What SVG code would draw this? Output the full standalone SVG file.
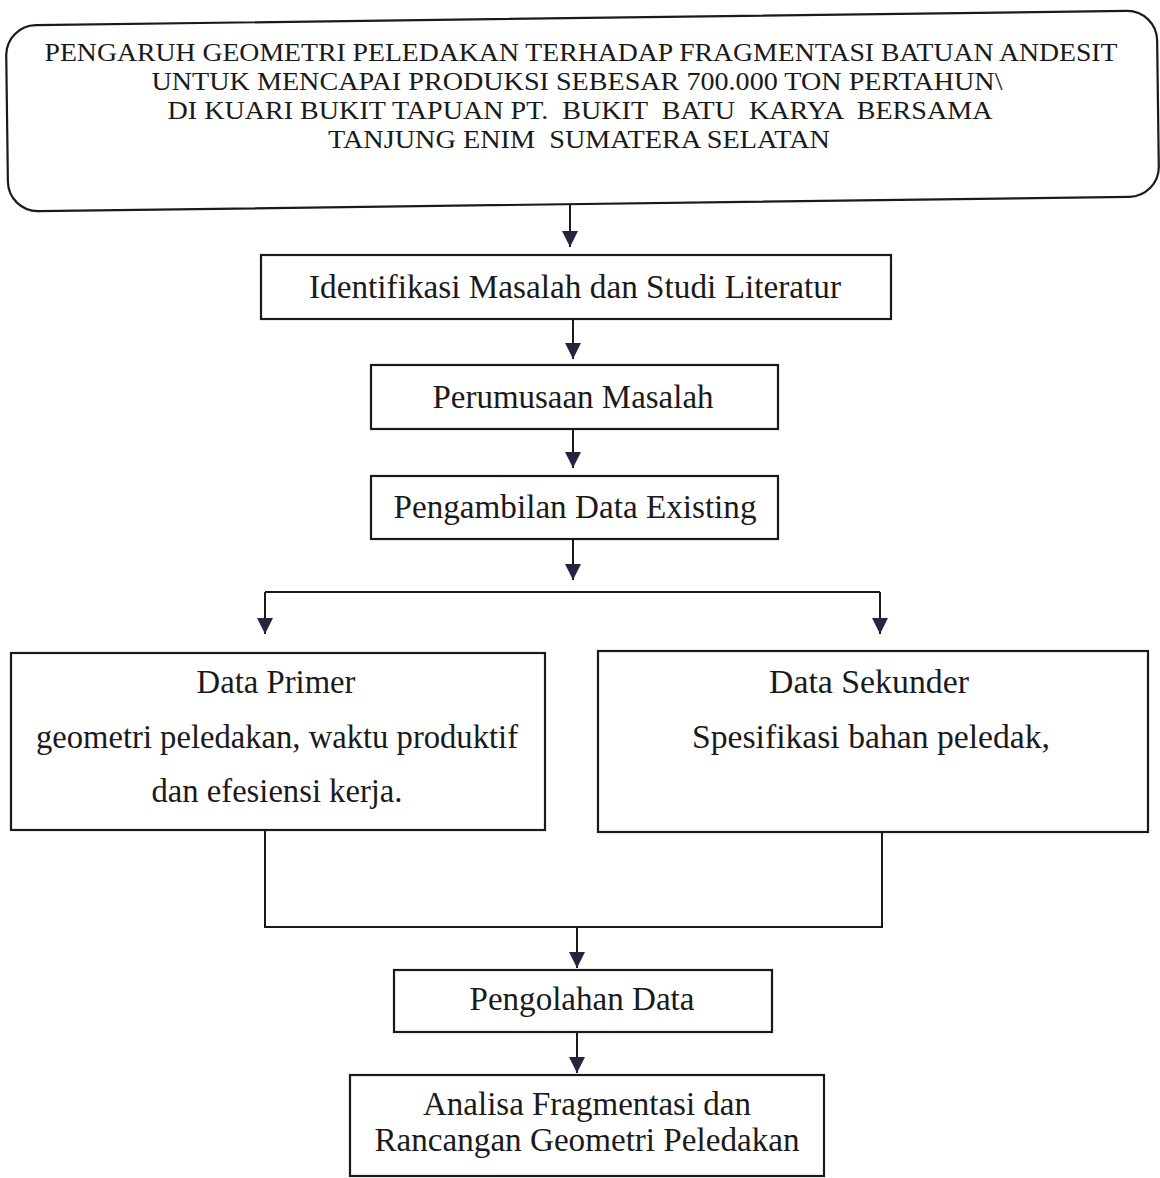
<svg xmlns="http://www.w3.org/2000/svg" width="1160" height="1178" viewBox="0 0 1160 1178">
<style>
.box{fill:#fff;stroke:#1a1a1a;stroke-width:2.2}
.t{font-family:"Liberation Serif","Times New Roman",serif;fill:#1a1a1a;text-anchor:middle}
.title{font-size:25px}
.lbl{font-size:33px}
.conn{fill:none;stroke:#1a1a1a;stroke-width:2}
</style>
<defs>
<marker id="ah" viewBox="0 0 16 16" refX="16" refY="8" markerWidth="16" markerHeight="16" orient="auto" markerUnits="userSpaceOnUse">
<path d="M0,0 L16,8 L0,16 z" fill="#2a2340"/>
</marker>
</defs>
<rect width="1160" height="1178" fill="#fff"/>

<g id="title">
<rect class="box" x="7" y="18" width="1151" height="186" rx="30" transform="rotate(-0.75 583 110)"/>
<text class="t title" x="581" y="61" textLength="1073" lengthAdjust="spacingAndGlyphs">PENGARUH GEOMETRI PELEDAKAN TERHADAP FRAGMENTASI BATUAN ANDESIT</text>
<text class="t title" x="577" y="90" textLength="851" lengthAdjust="spacingAndGlyphs">UNTUK MENCAPAI PRODUKSI SEBESAR 700.000 TON PERTAHUN\</text>
<text class="t title" x="580" y="119" textLength="825" lengthAdjust="spacingAndGlyphs" xml:space="preserve">DI KUARI BUKIT TAPUAN PT.  BUKIT  BATU  KARYA  BERSAMA</text>
<text class="t title" x="579" y="148" textLength="502" lengthAdjust="spacingAndGlyphs" xml:space="preserve">TANJUNG ENIM  SUMATERA SELATAN</text>
</g>

<g id="identifikasi">
<rect class="box" x="261" y="255" width="630" height="64"/>
<text class="t lbl" x="575" y="298" textLength="532" lengthAdjust="spacingAndGlyphs">Identifikasi Masalah dan Studi Literatur</text>
</g>

<g id="perumusaan">
<rect class="box" x="371" y="365" width="407" height="64"/>
<text class="t lbl" x="573" y="408" textLength="281" lengthAdjust="spacingAndGlyphs">Perumusaan Masalah</text>
</g>

<g id="pengambilan">
<rect class="box" x="371" y="476" width="407" height="63"/>
<text class="t lbl" x="575" y="518" textLength="363" lengthAdjust="spacingAndGlyphs">Pengambilan Data Existing</text>
</g>

<g id="primer">
<rect class="box" x="11" y="653" width="534" height="177"/>
<text class="t lbl" x="276" y="693" textLength="159" lengthAdjust="spacingAndGlyphs">Data Primer</text>
<text class="t lbl" x="277" y="748" textLength="482" lengthAdjust="spacingAndGlyphs">geometri peledakan, waktu produktif</text>
<text class="t lbl" x="277" y="802" textLength="251" lengthAdjust="spacingAndGlyphs">dan efesiensi kerja.</text>
</g>

<g id="sekunder">
<rect class="box" x="598" y="651" width="550" height="181"/>
<text class="t lbl" x="869" y="693" textLength="200" lengthAdjust="spacingAndGlyphs">Data Sekunder</text>
<text class="t lbl" x="871" y="748" textLength="358" lengthAdjust="spacingAndGlyphs">Spesifikasi bahan peledak,</text>
</g>

<g id="pengolahan">
<rect class="box" x="394" y="970" width="378" height="62"/>
<text class="t lbl" x="582" y="1010" textLength="225" lengthAdjust="spacingAndGlyphs">Pengolahan Data</text>
</g>

<g id="analisa">
<rect class="box" x="350" y="1075" width="474" height="101"/>
<text class="t lbl" x="587" y="1115" textLength="328" lengthAdjust="spacingAndGlyphs">Analisa Fragmentasi dan</text>
<text class="t lbl" x="587" y="1151" textLength="425" lengthAdjust="spacingAndGlyphs">Rancangan Geometri Peledakan</text>
</g>

<g id="connectors">
<path class="conn" d="M570,205 V247" marker-end="url(#ah)"/>
<path class="conn" d="M573,320 V359" marker-end="url(#ah)"/>
<path class="conn" d="M573,429 V468" marker-end="url(#ah)"/>
<path class="conn" d="M573,539 V580" marker-end="url(#ah)"/>
<path class="conn" d="M265,592 H880"/>
<path class="conn" d="M265,592 V634" marker-end="url(#ah)"/>
<path class="conn" d="M880,592 V634" marker-end="url(#ah)"/>
<path class="conn" d="M265,830 V927 H882 V832"/>
<path class="conn" d="M577,927 V968" marker-end="url(#ah)"/>
<path class="conn" d="M577,1032 V1073" marker-end="url(#ah)"/>
</g>
</svg>
